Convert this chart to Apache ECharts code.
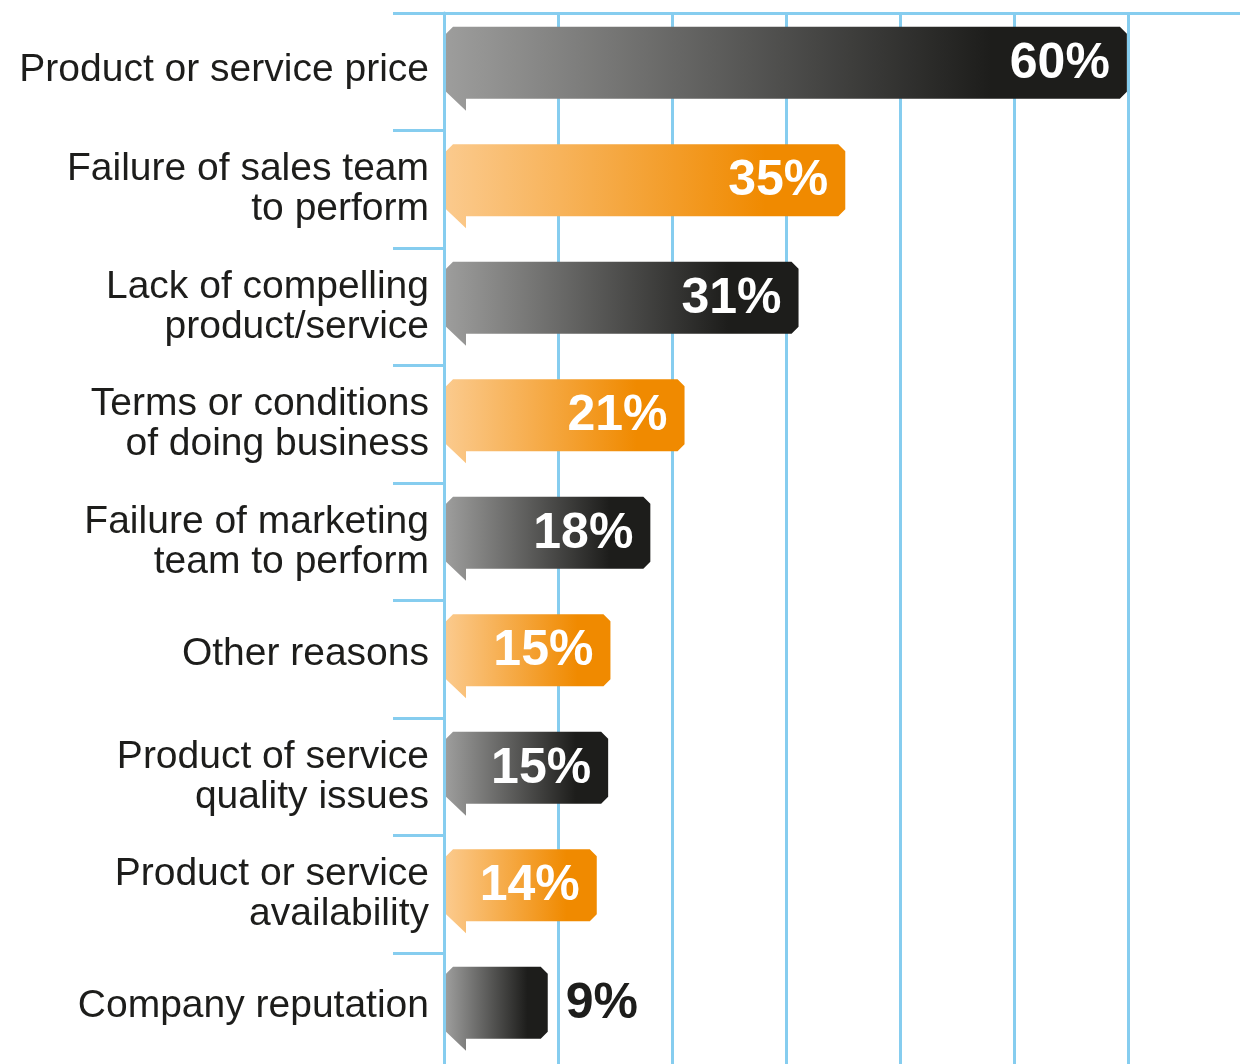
<!DOCTYPE html>
<html>
<head>
    <meta charset="UTF-8">
    <title>Reasons for lost deals</title>
    <script type="text/javascript" src="https://cdn.jsdelivr.net/npm/echarts@6/dist/echarts.min.js"></script>
</head>
<body style="margin: 0; background: #fff">
<div id="container" style="width: 1240px; height: 1064px"></div>
<script type="text/javascript">
    const categories = [
        'Product or service price',
        'Failure of sales team\nto perform',
        'Lack of compelling\nproduct/service',
        'Terms or conditions\nof doing business',
        'Failure of marketing\nteam to perform',
        'Other reasons',
        'Product of service\nquality issues',
        'Product or service\navailability',
        'Company reputation'
    ];
    // printed percentages
    const values = [60, 35, 31, 21, 18, 15, 15, 14, 9];
    // bar lengths as drawn in the picture (slightly off the printed numbers)
    const barValues = [59.9, 35.2, 31.1, 21.1, 18.1, 14.6, 14.4, 13.4, 9.1];
    const xTicks = [0, 10, 20, 30, 40, 50, 60, 70];

    const blue = '#86cdef';
    const ink = '#1d1d1b';

    const greyFill = new echarts.graphic.LinearGradient(0, 0, 1, 0, [
        {offset: 0, color: '#9d9d9c'},
        {offset: 0.8, color: '#1d1d1b'},
        {offset: 1, color: '#1d1d1b'}
    ]);
    const orangeFill = new echarts.graphic.LinearGradient(0, 0, 1, 0, [
        {offset: 0, color: '#fbca8d'},
        {offset: 0.8, color: '#f08a00'},
        {offset: 1, color: '#f08a00'}
    ]);

    // speech-bubble bar: chamfered corners and a little tail at bottom left
    function renderBubble(params, api) {
        const val = api.value(0);
        const idx = api.value(1);
        const start = api.coord([0, idx]);
        const end = api.coord([val, idx]);
        const c = start[1];
        const x0 = start[0] + 2;
        const x1 = end[0];
        const y0 = c - 45;
        const y1 = c + 27;
        const k = 7;
        const pts = [
            [x0, y0 + k], [x0 + k, y0], [x1 - k, y0], [x1, y0 + k],
            [x1, y1 - k], [x1 - k, y1], [x0 + 20, y1], [x0 + 20, y1 + 12],
            [x0, y1 - k]
        ];
        const pct = values[idx];
        const inside = pct >= 10;
        return {
            type: 'group',
            children: [{
                type: 'polygon',
                shape: {points: pts},
                style: {fill: idx % 2 === 0 ? greyFill : orangeFill}
            }, {
                type: 'text',
                style: {
                    text: pct + '%',
                    x: inside ? x1 - 17 : x1 + 18,
                    y: (y0 + y1) / 2 + 1,
                    align: inside ? 'right' : 'left',
                    verticalAlign: 'middle',
                    fill: inside ? '#fff' : ink,
                    font: 'bold 50px "Liberation Sans", Arial, sans-serif'
                }
            }]
        };
    }

    const labelFont = {
        color: ink,
        fontSize: 39,
        lineHeight: 40,
        fontFamily: '"Liberation Sans", Arial, sans-serif'
    };

    const myChart = echarts.init(document.getElementById('container'));
    const option = {
        animation: false,
        grid: {
            left: 444,
            right: -2,
            top: 13,
            bottom: -6.5,
            containLabel: false,
            outerBoundsMode: 'none'
        },
        xAxis: {
            type: 'value',
            position: 'top',
            min: xTicks[0],
            max: xTicks[xTicks.length - 1],
            interval: xTicks[1] - xTicks[0],
            axisLine: {show: true, lineStyle: {color: blue, width: 3}},
            axisTick: {show: false},
            axisLabel: {show: false},
            splitLine: {show: true, lineStyle: {color: blue, width: 3}}
        },
        yAxis: {
            type: 'category',
            inverse: true,
            data: categories,
            axisLine: {show: true, lineStyle: {color: blue, width: 3}},
            axisTick: {show: true, length: 51, interval: 0, lineStyle: {color: blue, width: 3}},
            axisLabel: Object.assign({
                margin: 15,
                interval: 0,
                align: 'right',
                // lower one-line labels sit a little higher, level with the bar
                formatter: function (name, i) {
                    if (name.indexOf('\n') >= 0) return name;
                    return (i === 0 ? '{top|' : '{one|') + name + '}';
                },
                rich: {
                    top: Object.assign({padding: [0, 0, 3, 0]}, labelFont),
                    one: Object.assign({padding: [0, 0, 11, 0]}, labelFont)
                }
            }, labelFont),
            splitLine: {show: false}
        },
        series: [{
            type: 'custom',
            renderItem: renderBubble,
            encode: {x: 0, y: 1},
            clip: false,
            data: barValues.map((v, i) => [v, i])
        }]
    };
    myChart.setOption(option);
</script>
</body>
</html>
